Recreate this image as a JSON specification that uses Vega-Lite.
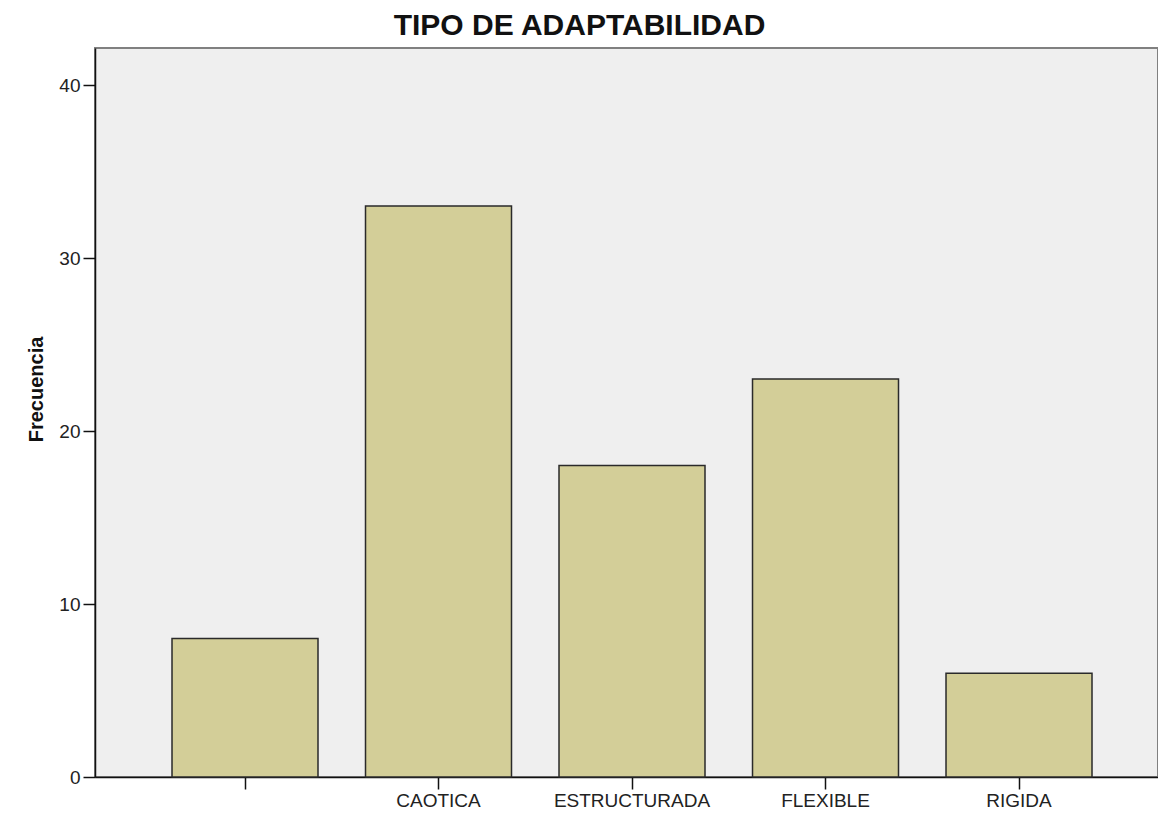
{
  "$schema": "https://vega.github.io/schema/vega-lite/v6.json",
  "autosize": {"type": "none"},
  "padding": {"left": 95, "top": 48, "right": 0, "bottom": 36},
  "width": 1063,
  "height": 729,
  "background": "white",
  "title": {
    "text": "TIPO DE ADAPTABILIDAD",
    "font": "Liberation Sans",
    "fontSize": 30,
    "fontWeight": "bold",
    "color": "#111111",
    "anchor": "middle",
    "dx": -47,
    "offset": 7
  },
  "config": {
    "view": {"fill": "#EFEFEF", "stroke": "#808080", "strokeWidth": 2},
    "axis": {
      "labelFont": "Liberation Sans",
      "labelFontSize": 19,
      "labelColor": "#222222",
      "titleFont": "Liberation Sans",
      "domainColor": "#111111",
      "domainWidth": 1.5,
      "tickColor": "#111111",
      "tickWidth": 1.5,
      "tickSize": 12,
      "grid": false
    }
  },
  "data": {
    "values": [
      {"cat": "", "n": 8},
      {"cat": "CAOTICA", "n": 33},
      {"cat": "ESTRUCTURADA", "n": 18},
      {"cat": "FLEXIBLE", "n": 23},
      {"cat": "RIGIDA", "n": 6}
    ]
  },
  "mark": {"type": "bar", "fill": "#D3CE98", "stroke": "#2a2a2a", "strokeWidth": 1.5},
  "encoding": {
    "x": {
      "field": "cat",
      "type": "nominal",
      "sort": ["", "CAOTICA", "ESTRUCTURADA", "FLEXIBLE", "RIGIDA"],
      "scale": {"paddingInner": 0.2455, "paddingOuter": 0.3695, "align": 0.5385},
      "axis": {"title": null, "labelAngle": 0, "labelPadding": 2, "labelBaseline": "top"}
    },
    "y": {
      "field": "n",
      "type": "quantitative",
      "scale": {"domain": [0, 42.14], "nice": false, "zero": true},
      "axis": {
        "title": "Frecuencia",
        "titleFontSize": 20,
        "titleFontWeight": "bold",
        "titleColor": "#111111",
        "values": [0, 10, 20, 30, 40],
        "labelPadding": 3,
        "titleX": -53,
        "titleY": 341,
        "titleBaseline": "alphabetic",
        "titleAngle": -90
      }
    }
  }
}
